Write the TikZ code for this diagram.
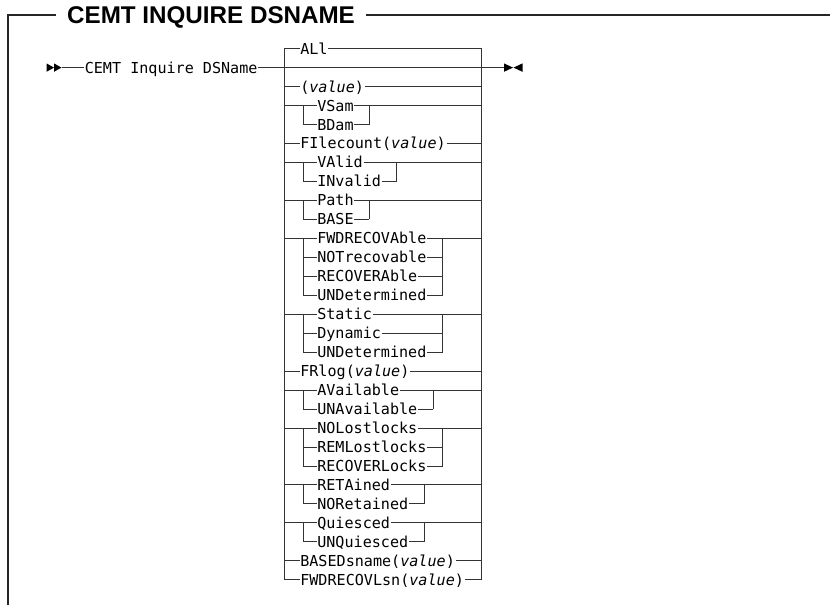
\documentclass[tikz,border=0pt]{standalone}
\usepackage{fontspec}
\setmainfont{Liberation Sans}
\newfontfamily\monofam{DejaVu Sans Mono}
\newcommand{\monotext}{\monofam\fontsize{15.1}{18}\selectfont}
\newcommand{\vl}{\textit{value}}
\begin{document}
\begin{tikzpicture}[x=1pt,y=-1pt,
  rail/.style={draw=black!80, line width=0.9pt},
  frame/.style={draw=black!85, line width=1.9pt},
  opt/.style={font=\monotext, anchor=west, inner xsep=0.6pt, inner ysep=0pt, text height=11pt, text depth=0pt},
  tipshape/.style={fill=black}]
\useasboundingbox (0,0) rectangle (830,605);
% frame and title
\node[font=\bfseries\fontsize{24.2}{27}\selectfont, anchor=west, inner xsep=11pt, inner ysep=0pt, text height=17pt, text depth=0pt] (title) at (56,15) {CEMT INQUIRE DSNAME};
\coordinate (fbl) at (8,606);
\coordinate (ftl) at (8,15);
\coordinate (ftr) at (831,15);
\draw[frame] (fbl) -- (ftl) -- (title.west);
\draw[frame] (title.east) -- (ftr);
% main line
\fill[tipshape] (46.5,63.4) -- (54,67.6) -- (46.5,71.8) -- cycle;
\fill[tipshape] (54,63.4) -- (61.5,67.6) -- (54,71.8) -- cycle;
\coordinate (start) at (61.5,67.6);
\node[opt] (cemt) at (84,67.6) {CEMT Inquire DSName};
\coordinate (L0) at (284,67.6);
\coordinate (R0) at (481,67.6);
\coordinate (stop) at (504,67.6);
\draw[rail] (start) -- (cemt.west);
\draw[rail] (cemt.east) -- (L0) -- (R0) -- (stop);
\fill[tipshape] (504,63.4) -- (513,67.6) -- (504,71.8) -- cycle;
\fill[tipshape] (522.5,63.4) -- (513.5,67.6) -- (522.5,71.8) -- cycle;
% outer rails with first and last rows
\node[opt] (all) at (299.5,48.63) {ALl};
\node[opt] (fwl) at (299.5,579.79) {FWDRECOVLsn(\vl)};
\coordinate (Ltop) at (284,48.63);
\coordinate (Lbot) at (284,579.79);
\coordinate (Rtop) at (481,48.63);
\coordinate (Rbot) at (481,579.79);
\draw[rail] (all.west) -- (Ltop) -- (Lbot) -- (fwl.west);
\draw[rail] (all.east) -- (Rtop) -- (Rbot) -- (fwl.east);
% simple rows
\foreach \k/\n/\t in {1/val/{(\vl)},4/fc/{FIlecount(\vl)},16/fr/{FRlog(\vl)},26/bd/{BASEDsname(\vl)}}{
  \coordinate (L-\n) at (284,{67.6+18.97*\k});
  \coordinate (R-\n) at (481,{67.6+18.97*\k});
  \node[opt] (\n) at (299.5,{67.6+18.97*\k}) {\t};
  \draw[rail] (L-\n) -- (\n.west);
  \draw[rail] (\n.east) -- (R-\n);
}
% groups
\foreach \k/\m/\xr/\items in {2/2/369/{VSam,BDam}, 5/2/396.5/{VAlid,INvalid}, 7/2/369/{Path,BASE}, 9/4/442.5/{FWDRECOVAble,NOTrecovable,RECOVERAble,UNDetermined}, 13/3/442.5/{Static,Dynamic,UNDetermined}, 17/2/433.3/{AVailable,UNAvailable}, 19/3/442.5/{NOLostlocks,REMLostlocks,RECOVERLocks}, 22/2/424.3/{RETAined,NORetained}, 24/2/424.3/{Quiesced,UNQuiesced}}{
  \pgfmathsetmacro{\yt}{67.6+18.97*\k}
  \pgfmathsetmacro{\yb}{67.6+18.97*(\k+\m-1)}
  \coordinate (gL\k) at (284,\yt);
  \coordinate (gR\k) at (481,\yt);
  \coordinate (gIL\k) at (303.3,\yt);
  \coordinate (gILb\k) at (303.3,\yb);
  \coordinate (gIR\k) at (\xr,\yt);
  \coordinate (gIRb\k) at (\xr,\yb);
  \foreach \opttext [count=\i from 0] in \items {
    \node[opt] (o\k-\i) at (316.5,{67.6+18.97*(\k+\i)}) {\opttext};
    \coordinate (il\k-\i) at (303.3,{67.6+18.97*(\k+\i)});
    \coordinate (ir\k-\i) at (\xr,{67.6+18.97*(\k+\i)});
    \draw[rail] (il\k-\i) -- (o\k-\i.west);
    \draw[rail] (o\k-\i.east) -- (ir\k-\i);
  }
  \draw[rail] (gL\k) -- (gIL\k) -- (gILb\k);
  \draw[rail] (gR\k) -- (gIR\k) -- (gIRb\k);
}
\end{tikzpicture}
\end{document}
